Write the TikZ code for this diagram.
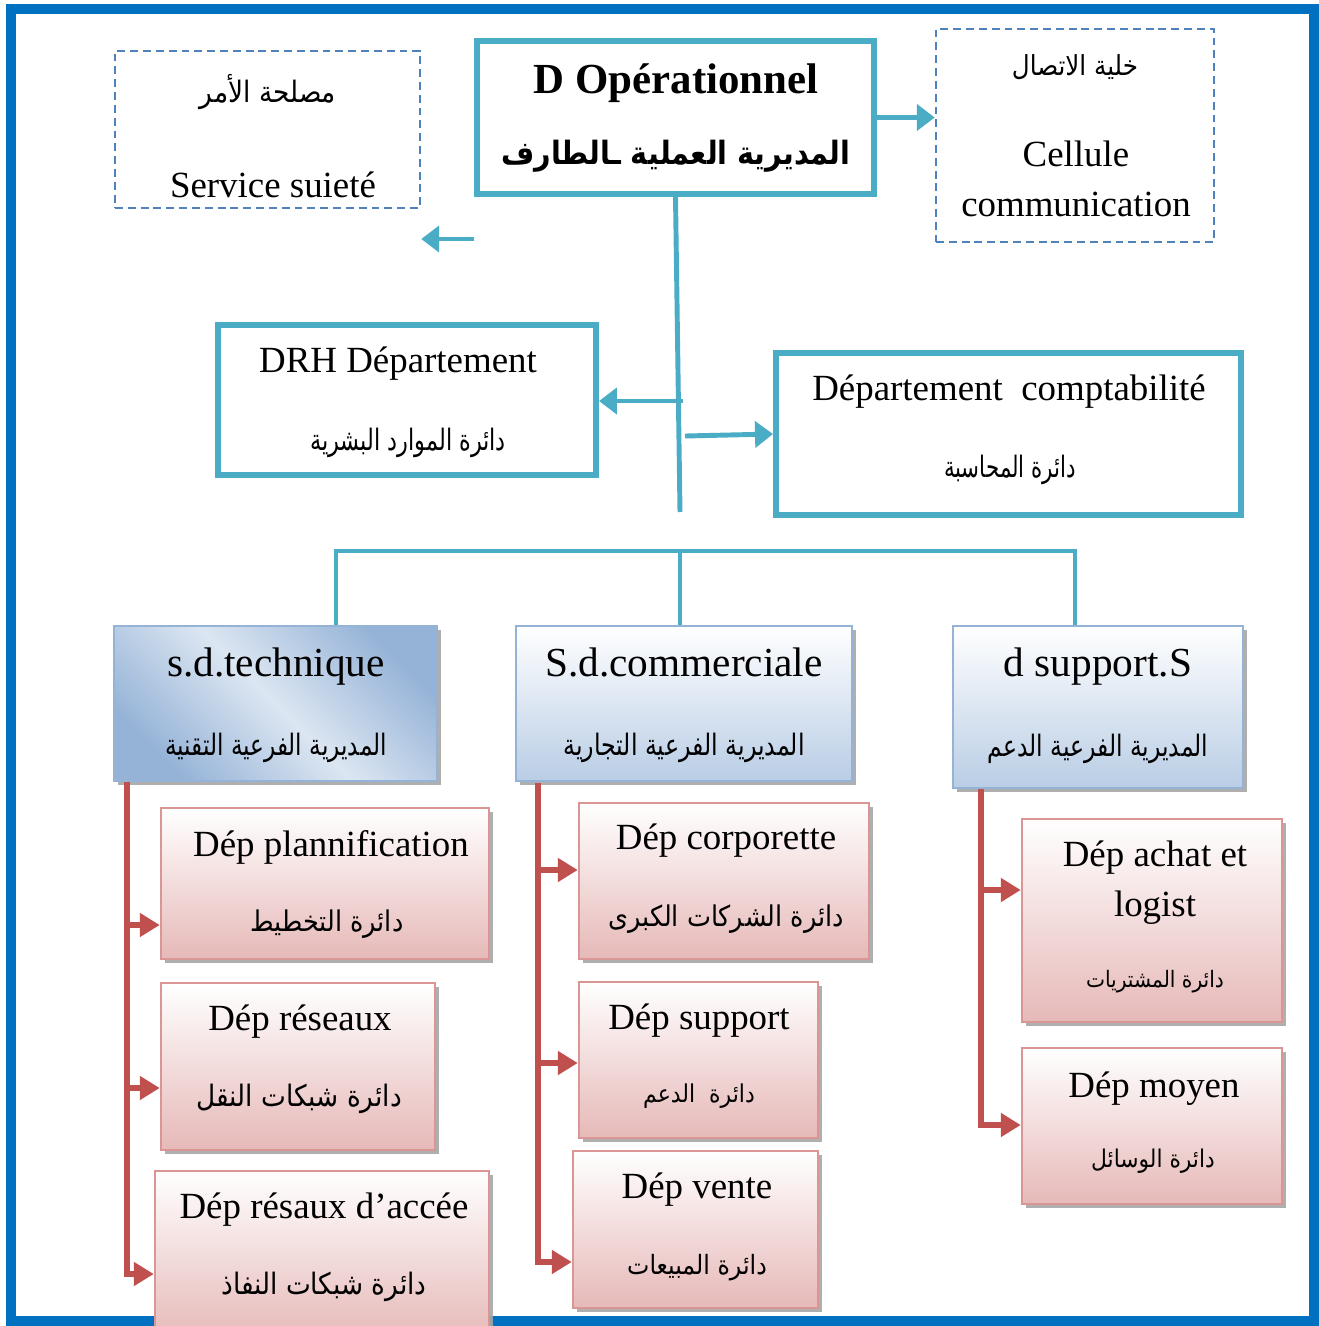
\documentclass[tikz,border=0pt]{standalone}
\usepackage{fontspec}
\usepackage{graphicx}
\setmainfont{Liberation Serif}
\newfontfamily\arabicfont[Script=Arabic]{DejaVu Sans}
\TeXXeTstate=1
\usetikzlibrary{arrows.meta,shadows}
% Arabic line, right to left, with an optional horizontal squeeze
\newcommand\artxt[2][1]{\scalebox{#1}[1.12]{\arabicfont\beginR #2\endR}}

\definecolor{frameblue}{HTML}{0070C0}
\definecolor{accteal}{HTML}{4BACC6}
\definecolor{dashblue}{HTML}{4F81BD}
\definecolor{subline}{HTML}{95B3D7}
\definecolor{subbot}{HTML}{B9CDE5}
\definecolor{sublight}{HTML}{DCE6F2}
\definecolor{redconn}{HTML}{C0504D}
\definecolor{pinkline}{HTML}{D99694}
\definecolor{pinkbot}{HTML}{E6B9B8}
\definecolor{shadowgray}{HTML}{A6A6A6}

\tikzset{
  sz/.style 2 args={minimum width=#1*0.02cm, minimum height=#2*0.02cm, inner sep=0pt},
  tealbox/.style={draw=accteal, line width=3.4pt, fill=white},
  dashbox/.style={draw=dashblue, line width=1.4pt, dash pattern=on 4.5pt off 2.8pt},
  boxshadow/.style={drop shadow={shadow xshift=0.08cm, shadow yshift=-0.08cm, fill=shadowgray, opacity=0.9}},
  subbox/.style={draw=subline, line width=1.4pt, boxshadow},
  pinkbox/.style={draw=pinkline, line width=1.4pt, top color=white, bottom color=pinkbot, boxshadow},
  tealline/.style={draw=accteal, line width=2.8pt},
  tealarrow/.style={tealline, -{Triangle[length=0.36cm, width=0.52cm]}},
  redline/.style={draw=redconn, line width=3.4pt, line join=miter},
  redarrow/.style={redline, -{Triangle[length=0.40cm, width=0.46cm]}},
  lat/.style={anchor=base, inner sep=0pt, font=\fontsize{21pt}{25pt}\selectfont},
  latbig/.style={anchor=base, inner sep=0pt, font=\fontsize{23.5pt}{28pt}\selectfont},
  arb/.style={anchor=center, inner sep=0pt, font=\fontsize{#1}{#1}\selectfont},
  arb/.default=15pt,
}

\begin{document}
\begin{tikzpicture}[x=0.02cm, y=-0.02cm]
\useasboundingbox (0,0) rectangle (1319,1326);

% outer frame
\draw[frameblue, line width=6.2pt] (11,9) rectangle (1314,1321);

% head office and its staff units
\node[tealbox, sz={397}{153}] (dop) at (675.5,117.5) {};
\node[anchor=base, inner sep=0pt, font=\fontsize{24.4pt}{29pt}\selectfont\bfseries] (dopT) at (676,93) {D Opérationnel};
\node[anchor=center, inner sep=0pt, font=\fontsize{16.3pt}{20pt}\selectfont\bfseries] (dopA) at (676,156) {\artxt{المديرية العملية ـالطارف}};

\node[dashbox, sz={305}{157}] (serv) at (267.5,129.5) {};
\node[arb] (servA) at (268,92) {\artxt{مصلحة الأمر}};
\node[lat] (servT) at (273,197) {Service suieté};

\node[dashbox, sz={278}{213}] (cell) at (1075,135.5) {};
\node[arb=14pt] (cellA) at (1075,67) {\artxt{خلية الاتصال}};
\node[lat] (cellT1) at (1076,166) {Cellule};
\node[lat] (cellT2) at (1076,216) {communication};

\node[tealbox, sz={378}{150}] (drh) at (407,400) {};
\node[lat] (drhT) at (398,372) {DRH Département};
\node[arb] (drhA) at (408,443) {\artxt[0.85]{دائرة الموارد البشرية}};

\node[tealbox, sz={465}{162}] (compta) at (1008.5,434) {};
\node[lat] (comptaT) at (1009,400) {Département\ \ comptabilité};
\node[arb] (comptaA) at (1010,470) {\artxt[0.81]{دائرة المحاسبة}};

% connectors of the upper level
\coordinate (spineEnd) at (680,512);
\coordinate (servFrom) at (474,239);
\coordinate (drhFrom) at (683,401);
\coordinate (comptaFrom) at (685,436);
\draw[tealline] (dop.south) -- (spineEnd);
\draw[tealarrow] (dop.east) -- (cell.west |- dop.east);
\draw[tealarrow] (servFrom) -- (serv.east |- servFrom);
\draw[tealarrow] (drhFrom) -- (drh.east |- drhFrom);
\draw[tealarrow] (comptaFrom) -- (compta.west);

% sub-directorates
\node[subbox, sz={323}{155}, shading=axis, top color=subline, bottom color=subline, middle color=sublight, shading angle=-45] (tech) at (275.5,703.5) {};
\node[latbig] (techT) at (276,676) {s.d.technique};
\node[arb] (techA) at (276,748) {\artxt[0.88]{المديرية الفرعية التقنية}};

\node[subbox, sz={336}{155}, top color=white, bottom color=subbot] (com) at (684,703.5) {};
\node[latbig] (comT) at (684,676) {S.d.commerciale};
\node[arb] (comA) at (684,748) {\artxt[0.9]{المديرية الفرعية التجارية}};

\node[subbox, sz={290}{162}, top color=white, bottom color=subbot] (sup) at (1098,707) {};
\node[latbig] (supT) at (1098,676) {d support.S};
\node[arb] (supA) at (1098,749) {\artxt[0.89]{المديرية الفرعية الدعم}};

% distribution bus
\coordinate (busL) at (336,551);
\coordinate (busM) at (680,551);
\coordinate (busR) at (1075,551);
\draw[tealline] (busL |- tech.north) -- (busL) -- (busR) -- (busR |- sup.north);
\draw[tealline] (busM) -- (busM |- com.north);

% departments of the technical branch
\node[pinkbox, sz={328}{151}] (plan) at (325,883.5) {};
\node[lat] (planT) at (331,856) {Dép plannification};
\node[arb=14.5pt] (planA) at (327,924) {\artxt{دائرة التخطيط}};

\node[pinkbox, sz={274}{167}] (res) at (298,1066.5) {};
\node[lat] (resT) at (300,1030) {Dép réseaux};
\node[arb] (resA) at (299,1099) {\artxt{دائرة شبكات النقل}};

\node[pinkbox, sz={334}{169}] (acc) at (322,1255.5) {};
\node[lat] (accT) at (324,1218) {Dép résaux d’accée};
\node[arb] (accA) at (324,1287) {\artxt{دائرة شبكات النفاذ}};

% departments of the commercial branch
\node[pinkbox, sz={290}{156}] (corp) at (724,881) {};
\node[lat] (corpT) at (726,849) {Dép corporette};
\node[arb=14.5pt] (corpA) at (726,919) {\artxt{دائرة الشركات الكبرى}};

\node[pinkbox, sz={239}{156}] (supp) at (698.5,1060) {};
\node[lat] (suppT) at (699,1029) {Dép support};
\node[arb=12.5pt] (suppA) at (699,1096) {\artxt{دائرة\ \ الدعم}};

\node[pinkbox, sz={245}{157}] (vente) at (695.5,1229.5) {};
\node[lat] (venteT) at (697,1198) {Dép vente};
\node[arb=13.5pt] (venteA) at (697,1268) {\artxt{دائرة المبيعات}};

% departments of the support branch
\node[pinkbox, sz={260}{203}] (achat) at (1152,920.5) {};
\node[lat] (achatT1) at (1155,866) {Dép achat et};
\node[lat] (achatT2) at (1155,916) {logist};
\node[arb=11.5pt] (achatA) at (1155,982) {\artxt{دائرة المشتريات}};

\node[pinkbox, sz={260}{156}] (moyen) at (1152,1126) {};
\node[lat] (moyenT) at (1154,1097) {Dép moyen};
\node[arb=12.4pt] (moyenA) at (1153,1161) {\artxt{دائرة الوسائل}};

% red trunks
\coordinate (tk0) at (127,782);
\coordinate (tk1) at (127,925);
\coordinate (tk2) at (127,1088);
\coordinate (tk3) at (127,1274);
\draw[redarrow] (tk0) |- (acc.west |- tk3);
\draw[redarrow] (tk1) -- (plan.west |- tk1);
\draw[redarrow] (tk2) -- (res.west |- tk2);

\coordinate (ck0) at (538,783);
\coordinate (ck1) at (538,870);
\coordinate (ck2) at (538,1063);
\coordinate (ck3) at (538,1262);
\draw[redarrow] (ck0) |- (vente.west |- ck3);
\draw[redarrow] (ck1) -- (corp.west |- ck1);
\draw[redarrow] (ck2) -- (supp.west |- ck2);

\coordinate (sk0) at (981,789);
\coordinate (sk1) at (981,890);
\coordinate (sk2) at (981,1125);
\draw[redarrow] (sk0) |- (moyen.west |- sk2);
\draw[redarrow] (sk1) -- (achat.west |- sk1);
\end{tikzpicture}
\end{document}
